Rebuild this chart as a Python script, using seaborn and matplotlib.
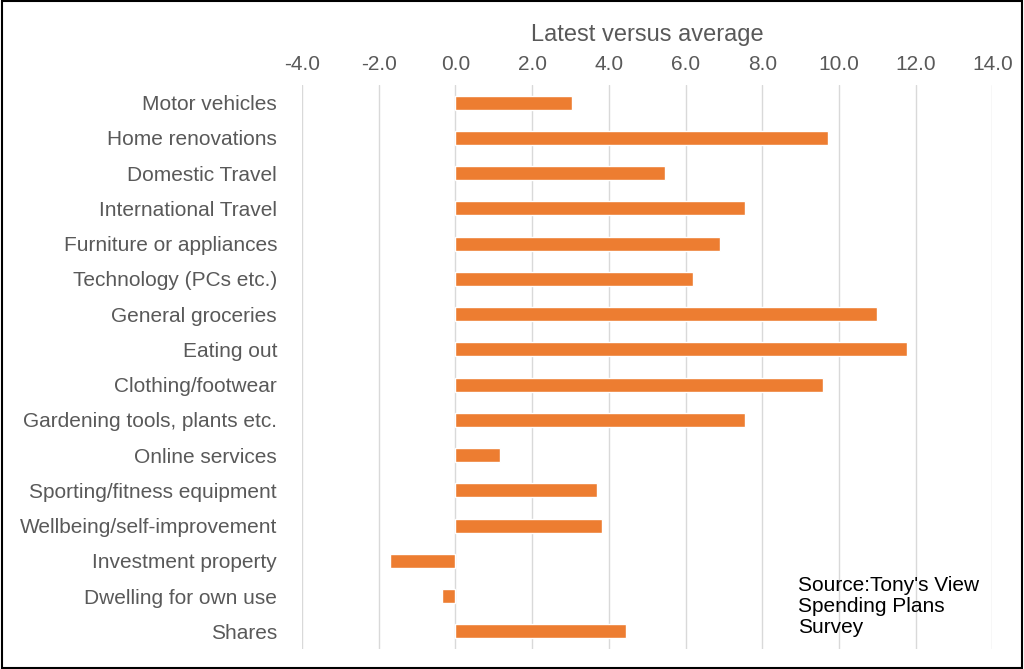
import pandas as pd
import seaborn as sns
import matplotlib.pyplot as plt

# Spending categories and latest-vs-average values
categories = ["Motor vehicles", "Home renovations", "Domestic Travel", "International Travel",
              "Furniture or appliances", "Technology (PCs etc.)", "General groceries", "Eating out",
              "Clothing/footwear", "Gardening tools, plants etc.", "Online services",
              "Sporting/fitness equipment", "Wellbeing/self-improvement", "Investment property",
              "Dwelling for own use", "Shares"]
values = [3.03, 9.71, 5.46, 7.55, 6.89, 6.19, 10.99, 11.78,
          9.58, 7.55, 1.15, 3.68, 3.81, -1.70, -0.34, 4.44]

df = pd.DataFrame({"category": categories, "value": values})

sns.set_style("white")
plt.rcParams['font.family'] = ['Liberation Sans', 'DejaVu Sans']

fig = plt.figure(figsize=(10.24, 6.69), dpi=100)
ax = fig.add_axes([0.295, 0.03, 0.674, 0.843])
sns.barplot(data=df, x="value", y="category", color="#ED7D31", saturation=1,
            width=0.4, ax=ax, orient="h")

ax.set_xlim(-4, 14)
ax.set_xticks(range(-4, 15, 2))
ax.set_xticklabels([f"{t:.1f}" for t in range(-4, 15, 2)])
ax.xaxis.tick_top()
ax.xaxis.set_label_position("top")
ax.set_xlabel("Latest versus average", fontsize=17, color="#595959", labelpad=10)
ax.set_ylabel("")
ax.tick_params(axis="both", labelsize=15, colors="#595959", length=0)
ax.tick_params(axis="y", pad=18)
ax.tick_params(axis="x", pad=8)
ax.grid(axis="x", color="#D9D9D9", linewidth=1)
ax.set_axisbelow(True)
for s in ax.spines.values():
    s.set_visible(False)

ax.text(0.718, 0.075, "Source:Tony's View\nSpending Plans\nSurvey", transform=ax.transAxes,
        fontsize=15, color="black", va="center", linespacing=1.15)

fig.patches.append(plt.Rectangle((0.002, 0.002), 0.996, 0.996, transform=fig.transFigure,
                                 fill=False, edgecolor="black", linewidth=1.5))

plt.savefig("out.png")
